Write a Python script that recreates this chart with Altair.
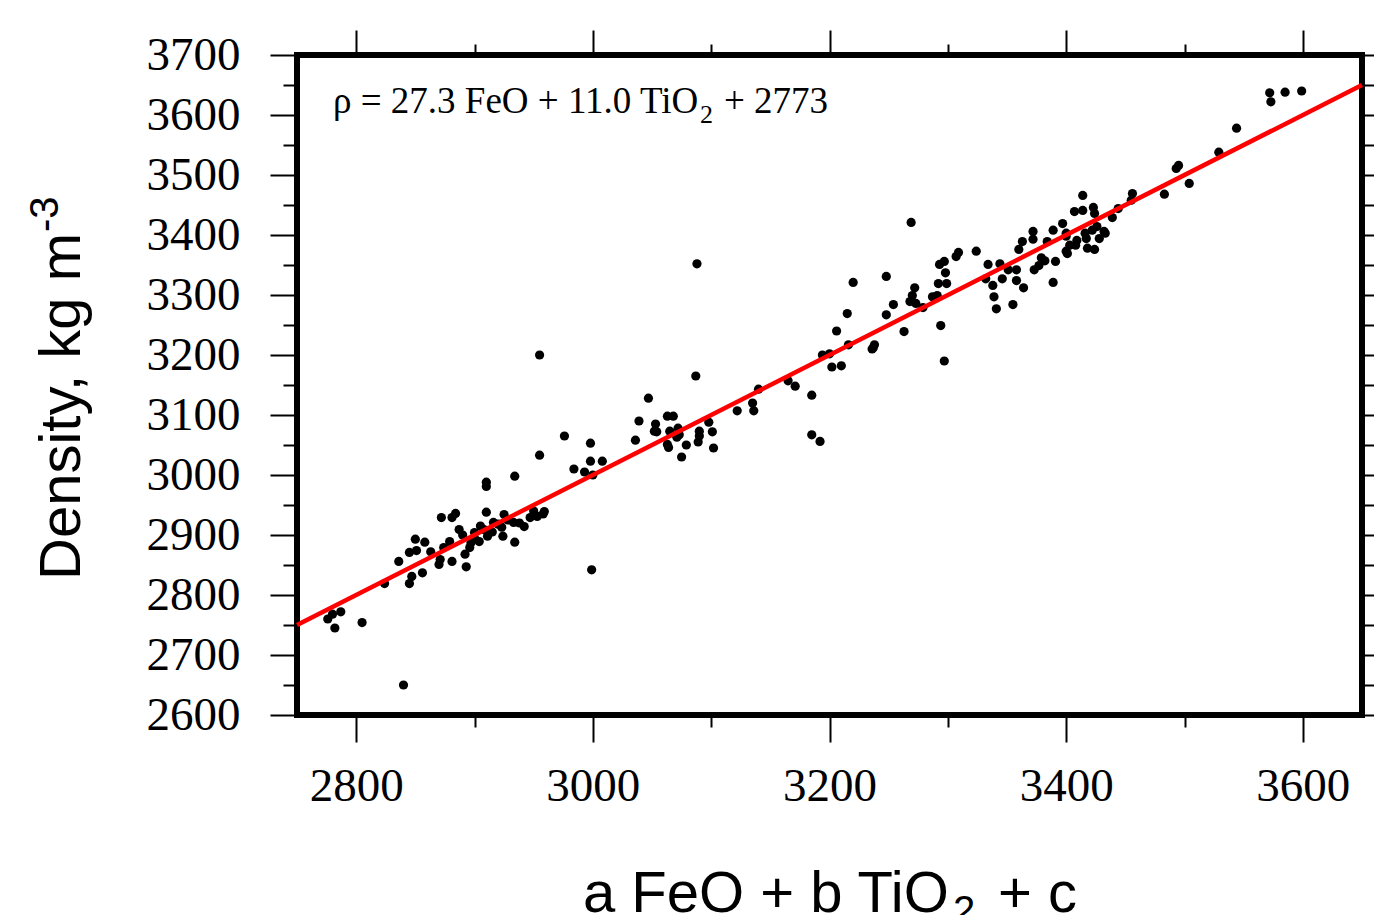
import altair as alt
import pandas as pd

# ---- data ----
x_vals = [2776, 2782, 2787, 2780, 2805, 2840, 2824, 2836, 2845, 2847, 2856, 2845, 2850, 2858, 2851,
          2870, 2872, 2881, 2884, 2887, 2874, 2879, 2881, 2871, 2893, 2892, 2896, 2900, 2904, 2908,
          2910, 2911, 2916, 2923, 2924, 2925, 2934, 2933, 2942, 2947, 2959, 2958, 2953, 2910, 2910,
          2999, 2934, 2900, 2915, 2928, 2938, 2950, 2905, 2890, 2897, 2920, 2863,
          2955, 2955, 2976, 2984, 2993, 2998, 2998, 3000, 3008, 3036, 3039, 3047, 3053, 3052, 3054,
          3063, 3068, 3065, 3072, 3071, 3063, 3064, 3075, 3079, 3073, 3087, 3088, 3090, 3090, 3089,
          3098, 3101, 3102, 3122, 3135, 3136, 3140, 3165, 3171, 3185, 3185, 3192, 3194, 3200, 3202,
          3210, 3216, 3206, 3237, 3238, 3215, 3220, 3236, 3248, 3248, 3254, 3263, 3269, 3268, 3270,
          3272, 3273, 3279, 3287, 3291, 3294, 3297, 3292, 3299, 3293, 3297, 3298, 3307, 3309, 3324,
          3334, 3332, 3338, 3339, 3341, 3344, 3346, 3351, 3355, 3358, 3358, 3360, 3364, 3363, 3372,
          3372, 3373, 3377, 3382, 3389, 3391, 3389, 3384, 3397, 3400, 3400, 3407, 3408, 3414, 3414,
          3423, 3424, 3379, 3400, 3403, 3401, 3409, 3416, 3417, 3418, 3424, 3422, 3426, 3433, 3428,
          3439, 3444, 3456, 3483, 3493, 3504, 3432, 3455, 3495, 3529, 3544, 3572, 3573, 3585, 3599]
y_vals = [2760, 2745, 2772, 2768, 2754, 2650, 2819, 2856, 2819, 2831, 2837, 2871, 2893, 2888, 2874,
          2851, 2929, 2929, 2936, 2909, 2879, 2889, 2856, 2859, 2847, 2868, 2879, 2904, 2889, 2909,
          2938, 2898, 2921, 2913, 2898, 2934, 2888, 2921, 2914, 2929, 2939, 2935, 2931, 2988, 2981,
          2842, 2998, 2895, 2905, 2925, 2920, 2940, 2915, 2900, 2887, 2918, 2872,
          3033, 3200, 3065, 3010, 3005, 3053, 3023, 3000, 3023, 3058, 3090, 3128, 3085, 3073, 3072,
          3098, 3098, 3073, 3078, 3063, 3051, 3046, 3030, 3050, 3067, 3165, 3352, 3073, 3065, 3055,
          3088, 3072, 3045, 3107, 3120, 3107, 3143, 3157, 3148, 3133, 3067, 3056, 3200, 3202, 3180,
          3182, 3217, 3240, 3212, 3217, 3269, 3321, 3210, 3331, 3267, 3284, 3239, 3421, 3289, 3299,
          3312, 3286, 3279, 3297, 3299, 3249, 3190, 3319, 3319, 3351, 3356, 3337, 3364, 3371, 3373,
          3351, 3327, 3316, 3297, 3277, 3352, 3327, 3342, 3284, 3324, 3342, 3376, 3312, 3389, 3406,
          3393, 3342, 3349, 3357, 3321, 3356, 3408, 3389, 3419, 3403, 3373, 3439, 3383, 3466, 3441,
          3446, 3436, 3362, 3398, 3383, 3369, 3391, 3403, 3394, 3378, 3376, 3408, 3414, 3403, 3394,
          3429, 3444, 3469, 3468, 3511, 3486, 3406, 3458, 3516, 3538, 3578, 3637, 3622, 3638, 3640]
fit_x = [2750, 3650]
fit_y = [2750, 3650]

x_major = [2800, 3000, 3200, 3400, 3600]
x_minor = [2900, 3100, 3300, 3500]
y_major = [2600, 2700, 2800, 2900, 3000, 3100, 3200, 3300, 3400, 3500, 3600, 3700]
y_minor = [2650, 2750, 2850, 2950, 3050, 3150, 3250, 3350, 3450, 3550, 3650]

pts = pd.DataFrame({"x": x_vals, "y": y_vals})
fit = pd.DataFrame({"x": fit_x, "y": fit_y})

xs = alt.Scale(domain=[2750, 3650], nice=False, zero=False)
ys = alt.Scale(domain=[2600, 3700], nice=False, zero=False)

SERIF = "Liberation Serif"
SANS = "Liberation Sans"


def axis(orient, values, size, labels=False, pad=0):
    kw = dict(orient=orient, values=values, tickSize=size, title=None, domain=False,
              grid=False, ticks=True, tickColor="black", tickWidth=2, labels=labels)
    if labels:
        kw.update(labelFont=SERIF, labelFontSize=47, labelColor="black", format="d",
                  labelPadding=pad, labelOverlap=False, labelFlush=False)
    return alt.Axis(**kw)


def ghost(xo, xv, xsz, yo, yv, ysz):
    return alt.Chart(fit).mark_line(opacity=0).encode(
        x=alt.X("x:Q", scale=xs, axis=axis(xo, xv, xsz)),
        y=alt.Y("y:Q", scale=ys, axis=axis(yo, yv, ysz)),
    )


minor_bl = ghost("bottom", x_minor, 12, "left", y_minor, 14)
major_tr = ghost("top", x_major, 25, "right", y_major, 22)
minor_tr = ghost("top", x_minor, 11, "right", y_minor, 14)

points = alt.Chart(pts).mark_circle(size=85, color="black", opacity=1).encode(
    x=alt.X("x:Q", scale=xs, axis=axis("bottom", x_major, 27, True, 21)),
    y=alt.Y("y:Q", scale=ys, axis=axis("left", y_major, 27, True, 30)),
)

line = alt.Chart(fit).mark_line(color="#ff0000", strokeWidth=4.5).encode(
    x=alt.X("x:Q", scale=xs, axis=None), y=alt.Y("y:Q", scale=ys, axis=None)
)

one = alt.Data(values=[{"k": 1}])


def txt(s, x, y, size, font, angle=0):
    return alt.Chart(one).mark_text(
        text=s, align="left", baseline="alphabetic", font=font, fontSize=size,
        angle=angle, color="black",
    ).encode(x=alt.value(x), y=alt.value(y))


texts = [
    txt("Density, kg m", -217, 525, 58, SANS, 270),
    txt("-3", -239, 177, 40, SANS, 270),
    txt("a FeO + b TiO", 286, 857, 58, SANS),
    txt("2", 656, 869, 40, SANS),
    txt("+ c", 701, 857, 58, SANS),
    txt("ρ = 27.3 FeO + 11.0 TiO", 36, 58, 37, SERIF),
    txt("2", 403, 68, 26, SERIF),
    txt("+ 2773", 427, 58, 37, SERIF),
]

chart = alt.layer(minor_bl, major_tr, minor_tr, points, line, *texts).resolve_axis(
    x="independent", y="independent"
).properties(
    width=1065, height=660, autosize="none",
    padding={"left": 289, "top": 47, "right": 12, "bottom": 200},
).configure(background="white").configure_view(stroke="black", strokeWidth=6)

chart.save("out.html", embed_options={"renderer": "svg", "actions": False})
